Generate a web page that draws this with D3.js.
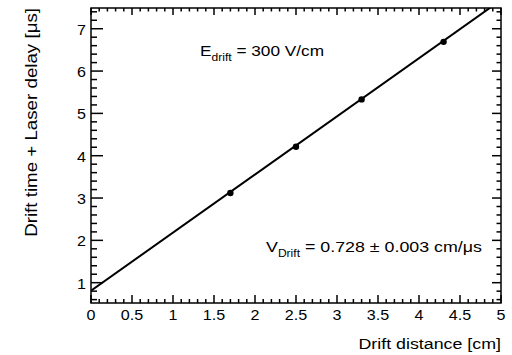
<!DOCTYPE html>
<html>
<head>
<meta charset="utf-8">
<script src="https://cdn.jsdelivr.net/npm/d3@7"></script>
<style>
  body { margin: 0; background: #fff; }
  text { font-family: "Liberation Sans", Arial, Helvetica, sans-serif; fill: #000; }
</style>
</head>
<body>
<div id="chart"></div>
<script>
// measured points (drift distance in cm, drift time + laser delay in us)
var distances = [1.7, 2.5, 3.3, 4.3];
var times = [3.12, 4.21, 5.33, 6.69];

// linear fit result
var fitVelocity = 0.728;   // cm/us
var fitOffset = 0.81;      // us

var xTicks = [0, 0.5, 1, 1.5, 2, 2.5, 3, 3.5, 4, 4.5, 5];
var yTicks = [1, 2, 3, 4, 5, 6, 7];

var width = 512, height = 355;
var margin = { top: 8, right: 11, bottom: 52, left: 91 };
var stretch = 1.15; // ROOT text comes out a bit wider than Liberation Sans

var svg = d3.select("#chart").append("svg")
    .attr("width", width)
    .attr("height", height);

var x = d3.scaleLinear().domain([0, 5]).range([margin.left, width - margin.right]);
var y = d3.scaleLinear().domain([0.52, 7.49]).range([height - margin.bottom, margin.top]);

var x0 = x.range()[0], x1 = x.range()[1];
var y0 = y.range()[0], y1 = y.range()[1];

function place(px, py, rot) {
    return "translate(" + px + "," + py + ")" + (rot ? " rotate(" + rot + ")" : "") +
        " scale(" + stretch + ",1)";
}

svg.append("clipPath").attr("id", "frame")
    .append("rect")
    .attr("x", x0).attr("y", y1)
    .attr("width", x1 - x0).attr("height", y0 - y1);

// fit line
var fitLine = d3.line()
    .x(function (d) { return x(d); })
    .y(function (d) { return y(fitOffset + d / fitVelocity); });

svg.append("path")
    .attr("clip-path", "url(#frame)")
    .attr("d", fitLine([0, 5]))
    .attr("fill", "none")
    .attr("stroke", "#000")
    .attr("stroke-width", 2);

// points
svg.append("g").selectAll("circle")
    .data(distances)
    .enter()
    .append("circle")
    .attr("cx", function (d) { return x(d); })
    .attr("cy", function (d, i) { return y(times[i]); })
    .attr("r", 3.2)
    .attr("fill", "#000");

// ticks, ROOT style: inside the frame on all four sides
var ticksG = svg.append("g").attr("stroke", "#000").attr("stroke-width", 1.5);

var xMinor = d3.range(0, 5.001, 0.1);
xMinor.forEach(function (v) {
    var major = Math.abs(v * 2 - Math.round(v * 2)) < 1e-6;
    ticksG.append("line")
        .attr("x1", x(v)).attr("x2", x(v))
        .attr("y1", y0).attr("y2", y0 - (major ? 8 : 4));
    ticksG.append("line")
        .attr("x1", x(v)).attr("x2", x(v))
        .attr("y1", y1).attr("y2", y1 + (major ? 7 : 3.5));
});

var yMinor = d3.range(0.6, 7.41, 0.2);
yMinor.forEach(function (v) {
    var major = Math.abs(v - Math.round(v)) < 1e-6;
    ticksG.append("line")
        .attr("x1", x0).attr("x2", x0 + (major ? 12 : 6))
        .attr("y1", y(v)).attr("y2", y(v));
    ticksG.append("line")
        .attr("x1", x1).attr("x2", x1 - (major ? 9 : 4.5))
        .attr("y1", y(v)).attr("y2", y(v));
});

// frame
svg.append("rect")
    .attr("x", x0).attr("y", y1)
    .attr("width", x1 - x0).attr("height", y0 - y1)
    .attr("fill", "none")
    .attr("stroke", "#000")
    .attr("stroke-width", 1.5);

// tick labels
svg.append("g").selectAll("text")
    .data(xTicks)
    .enter()
    .append("text")
    .attr("transform", function (d) { return place(x(d), y0 + 16.5); })
    .attr("text-anchor", "middle")
    .attr("font-size", 14)
    .text(function (d) { return d; });

svg.append("g").selectAll("text")
    .data(yTicks)
    .enter()
    .append("text")
    .attr("transform", function (d) { return place(x0 - 5, y(d) + 6); })
    .attr("text-anchor", "end")
    .attr("font-size", 14)
    .text(function (d) { return d; });

// axis titles
svg.append("text")
    .attr("transform", place(x1, 349))
    .attr("text-anchor", "end")
    .attr("font-size", 15.5)
    .text("Drift distance [cm]");

svg.append("text")
    .attr("transform", place(37, y1, -90))
    .attr("text-anchor", "end")
    .attr("font-size", 16.3)
    .text("Drift time + Laser delay [\u03bcs]");

// annotations
var eText = svg.append("text")
    .attr("transform", place(200, 56))
    .attr("font-size", 15);
eText.append("tspan").text("E");
eText.append("tspan").attr("dy", 5).attr("font-size", 10.5).text("drift");
eText.append("tspan").attr("dy", -5).text(" = 300 V/cm");

var vText = svg.append("text")
    .attr("transform", place(266, 252))
    .attr("font-size", 15.5);
vText.append("tspan").text("V");
vText.append("tspan").attr("dy", 5).attr("font-size", 10.5).text("Drift");
vText.append("tspan").attr("dy", -5).text(" = 0.728 \u00b1 0.003 cm/\u03bcs");
</script>
</body>
</html>
